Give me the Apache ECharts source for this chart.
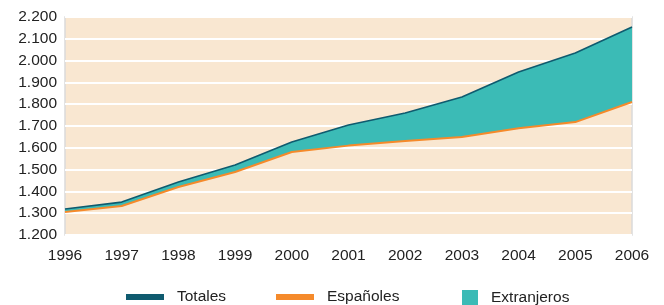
<!DOCTYPE html>
<html>
<head>
<meta charset="utf-8">
<script src="https://cdn.jsdelivr.net/npm/echarts@6/dist/echarts.min.js"></script>
<style>
  html, body { margin: 0; padding: 0; background: #fff; }
  #chart { width: 664px; height: 305px; }
</style>
</head>
<body>
<div id="chart"></div>
<script>
const years = ['1996', '1997', '1998', '1999', '2000', '2001', '2002', '2003', '2004', '2005', '2006'];
const totales = [1319, 1351, 1443, 1521, 1627, 1705, 1760, 1833, 1948, 2035, 2154];
const espanoles = [1305, 1333, 1420, 1489, 1581, 1610, 1631, 1650, 1690, 1718, 1810];
// band height between the two lines
const extranjeros = [14, 18, 23, 32, 46, 95, 129, 183, 258, 317, 344];

const colors = {
    totales: '#0f5b6f',
    espanoles: '#f58a2b',
    extranjeros: '#3bbbb6',
    bg: '#f9e7d1'
};

let chart = echarts.init(document.getElementById('chart'));

// 1200 -> "1.200"
function fmt(v) {
    return Math.floor(v / 1000) + '.' + String(v % 1000).padStart(3, '0');
}

const font = 'Liberation Sans, Arial, sans-serif';
const textStyle = { fontFamily: font, fontSize: 15.5, color: '#222' };
const legendText = { fontFamily: font, fontSize: 15.5, color: '#222', padding: [0, 0, 0, 8] };

let option = {
    animation: false,
    grid: {
        left: 65, right: 32, top: 17, bottom: 70,
        show: true,
        backgroundColor: colors.bg,
        borderColor: '#dadada',
        borderWidth: 1.5
    },
    legend: [
        {
            left: 126, top: 289, padding: 0, itemWidth: 38, itemHeight: 6, itemGap: 0,
            icon: 'rect',
            textStyle: legendText,
            data: [{ name: 'Totales', itemStyle: { color: colors.totales } }]
        },
        {
            left: 276, top: 289, padding: 0, itemWidth: 38, itemHeight: 6, itemGap: 0,
            icon: 'rect',
            textStyle: legendText,
            data: [{ name: 'Españoles', itemStyle: { color: colors.espanoles } }]
        },
        {
            left: 462, top: 290, padding: 0, itemWidth: 16, itemHeight: 16, itemGap: 0,
            icon: 'rect',
            textStyle: legendText,
            data: [{ name: 'Extranjeros', itemStyle: { color: colors.extranjeros } }]
        }
    ],
    xAxis: {
        type: 'category',
        boundaryGap: false,
        data: years,
        axisLine: { show: false },
        axisTick: { show: false },
        axisLabel: Object.assign({ margin: 13 }, textStyle),
        splitLine: { show: false }
    },
    yAxis: {
        type: 'value',
        min: 1200,
        max: 2200,
        interval: 100,
        axisLine: { show: false },
        axisTick: { show: false },
        axisLabel: Object.assign({ margin: 8, formatter: fmt }, textStyle),
        splitLine: { lineStyle: { color: '#ffffff', width: 2 } }
    },
    series: [
        {
            name: 'Españoles',
            type: 'line',
            stack: 'pob',
            data: espanoles,
            symbol: 'none',
            z: 4,
            lineStyle: { color: colors.espanoles, width: 2 },
            itemStyle: { color: colors.espanoles }
        },
        {
            name: 'Extranjeros',
            type: 'line',
            stack: 'pob',
            data: extranjeros,
            symbol: 'none',
            z: 2,
            lineStyle: { width: 0 },
            areaStyle: { color: colors.extranjeros, opacity: 1 },
            itemStyle: { color: colors.extranjeros }
        },
        {
            name: 'Totales',
            type: 'line',
            data: totales,
            symbol: 'none',
            z: 5,
            lineStyle: { color: colors.totales, width: 1.6 },
            itemStyle: { color: colors.totales }
        }
    ]
};

chart.setOption(option);
</script>
</body>
</html>
